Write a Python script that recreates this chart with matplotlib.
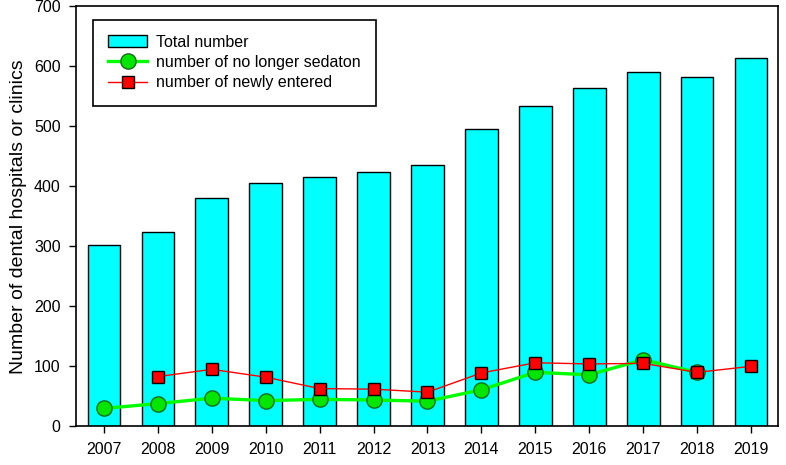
import matplotlib
matplotlib.use("Agg")
import matplotlib.pyplot as plt
import numpy as np

plt.rcParams['font.family'] = ['Liberation Sans', 'DejaVu Sans']

years = ['2007', '2008', '2009', '2010', '2011', '2012', '2013',
         '2014', '2015', '2016', '2017', '2018', '2019']
total = [302, 324, 381, 406, 415, 423, 436, 496, 534, 564, 590, 582, 614]
# no longer sedation (no value for 2019)
stopped = [30, 38, 47, 43, 45, 44, 42, 61, 90, 86, 111, 90, None]
# newly entered (no value for 2007)
newly = [None, 83, 95, 82, 63, 62, 57, 89, 106, 104, 105, 90, 100]

x = np.arange(len(years))
stopped_arr = np.array([np.nan if v is None else v for v in stopped], dtype=float)
newly_arr = np.array([np.nan if v is None else v for v in newly], dtype=float)

fig = plt.figure(figsize=(7.86, 4.65), dpi=100)
ax = fig.add_axes([0.0967, 0.083, 0.893, 0.904])

bars = ax.bar(x, total, width=0.61, color='#00FFFF', edgecolor='black', linewidth=1.0,
              label='Total number', zorder=2)
l1, = ax.plot(x, stopped_arr, color='#00FF00', linewidth=2.4, marker='o', markersize=11,
              markerfacecolor='#00E600', markeredgecolor='#1A6B1A', markeredgewidth=1.0,
              label='number of no longer sedaton', zorder=3)
l2, = ax.plot(x, newly_arr, color='#FF0000', linewidth=1.0, marker='s', markersize=8.5,
              markerfacecolor='#FF0000', markeredgecolor='black', markeredgewidth=1.0,
              label='number of newly entered', zorder=4)

ax.set_xlim(-0.52, 12.5)
ax.set_ylim(0, 700)
ax.set_xticks(x)
ax.set_xticklabels(years)
ax.set_yticks(range(0, 701, 100))
ax.tick_params(axis='both', direction='out', length=5, width=1, labelsize=11.5, pad=6)
for s in ax.spines.values():
    s.set_linewidth(1.2)
ax.set_ylabel('Number of dental hospitals or clinics', fontsize=14, labelpad=5)

leg = ax.legend([bars, l1, l2], [bars.get_label(), l1.get_label(), l2.get_label()],
                loc='upper left', bbox_to_anchor=(0.02, 0.975), fontsize=11.5,
                fancybox=False, framealpha=1, edgecolor='black',
                handlelength=2.4, handleheight=0.8, borderpad=0.95, labelspacing=0.33,
                handletextpad=0.6, borderaxespad=0.2)
leg.get_frame().set_linewidth(1.2)

fig.savefig('out.png', dpi=100)
